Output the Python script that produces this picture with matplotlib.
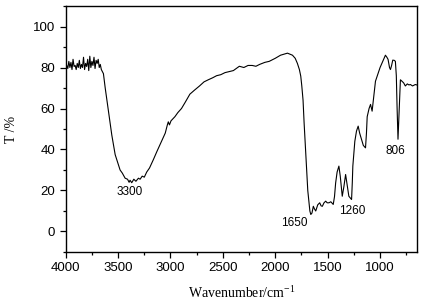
import numpy as np
import matplotlib
matplotlib.use('Agg')
import matplotlib.pyplot as plt
from matplotlib.ticker import MultipleLocator

# FTIR spectrum (wavenumber in cm-1, transmittance in %)
wavenumber = [
    4000, 3990, 3980, 3970, 3960, 3950, 3940, 3930, 3920, 3910,
    3900, 3890, 3880, 3870, 3860, 3850, 3840, 3830, 3820, 3810,
    3800, 3790, 3780, 3770, 3760, 3750, 3740, 3730, 3720, 3710,
    3700, 3690, 3680, 3670, 3660, 3650, 3640, 3623, 3591, 3560,
    3528, 3500, 3481, 3460, 3433, 3410, 3395, 3386, 3370, 3350,
    3330, 3306, 3290, 3270, 3250, 3227, 3200, 3164, 3130, 3085,
    3050, 3030, 3021, 3010, 2995, 2958, 2930, 2895, 2860, 2815,
    2770, 2723, 2680, 2640, 2597, 2560, 2520, 2480, 2438, 2400,
    2343, 2300, 2260, 2220, 2185, 2150, 2100, 2058, 2000, 1950,
    1899, 1884, 1860, 1836, 1810, 1789, 1770, 1757, 1747, 1735,
    1725, 1713, 1703, 1690, 1684, 1670, 1661, 1650, 1637, 1626,
    1614, 1595, 1576, 1563, 1551, 1535, 1519, 1505, 1488, 1470,
    1447, 1435, 1424, 1410, 1393, 1380, 1361, 1345, 1329, 1315,
    1298, 1272, 1265, 1260, 1250, 1241, 1225, 1209, 1195, 1177,
    1160, 1139, 1130, 1123, 1105, 1091, 1076, 1060, 1044, 1020,
    1000, 975, 949, 935, 924, 910, 901, 890, 879, 865,
    854, 845, 838, 829, 816, 806, 795, 775, 759, 740,
    725, 711, 690, 664, 650,
]
transmittance = [
    78, 81, 79.5, 83, 80, 82.5, 79, 84, 80.5, 81,
    79, 82, 80, 83.5, 79.5, 81.5, 80, 85, 79, 82,
    80.5, 84, 78.5, 85.5, 80, 83, 81, 85, 79.5, 83.5,
    82, 84, 80, 81.5, 79, 78, 77, 70, 58.5, 47,
    37.5, 33, 30, 28.5, 26, 25.5, 24, 25, 23.8, 25.5,
    24.5, 26, 25.5, 27, 26.5, 29, 31, 35, 39, 44,
    48, 52, 53.5, 52, 54, 56, 58, 60, 63, 67,
    69, 71, 73, 74, 75, 76, 76.5, 77.5, 78, 78.5,
    80.6, 80, 81, 81, 80.6, 81.5, 82.5, 83, 84.5, 86,
    86.8, 87, 86.5, 86, 84.5, 82, 79, 75.8, 71, 64,
    53, 42, 32, 20, 17, 10, 8.3, 9, 12.3, 11,
    10, 13, 14, 12.5, 12.3, 14, 14.8, 14, 14, 14.5,
    13.2, 17, 23.7, 29, 31.9, 27, 17.2, 22, 27.8, 23,
    17.2, 15.6, 24, 31.9, 38, 44, 49, 51.4, 48, 44.9,
    42, 40.8, 48, 56, 60, 62, 58.7, 66, 73.3, 77,
    80, 83, 86, 85, 84, 80, 79, 81, 83.6, 83.5,
    83, 76, 61, 45, 61, 74, 73.5, 72.5, 71, 72,
    71.5, 71.7, 71, 71.7, 71.5,
]

# peak labels: text, x, y
peak_labels = ["3300", "1650", "1260", "806"]
peak_label_x = [3389, 1822, 1270, 851]
peak_label_y = [19.5, 3.9, 9.9, 39.2]

# serif superscript in the axis label
plt.rcParams['mathtext.fontset'] = 'custom'
plt.rcParams['mathtext.rm'] = 'Liberation Serif'
plt.rcParams['mathtext.it'] = 'Liberation Serif:italic'

fig = plt.figure(figsize=(4.25, 3.05), dpi=100)
ax = fig.add_axes([0.1546, 0.1738, 0.826, 0.8065])

ax.plot(wavenumber, transmittance, color='black', linewidth=0.8)

for txt, lx, ly in zip(peak_labels, peak_label_x, peak_label_y):
    ax.text(lx, ly, txt, ha='center', va='center', fontsize=8.5,
            family='Liberation Sans')

ax.set_xlim(4000, 650)
ax.set_ylim(-10, 110)
ax.xaxis.set_major_locator(MultipleLocator(500))
ax.xaxis.set_minor_locator(MultipleLocator(250))
ax.yaxis.set_major_locator(MultipleLocator(20))
ax.yaxis.set_minor_locator(MultipleLocator(10))
ax.tick_params(which='both', direction='out', top=False, right=False,
               labelsize=9.5, width=0.9)
ax.tick_params(which='major', length=4)
ax.tick_params(which='minor', length=2.5)
for lbl in ax.get_xticklabels() + ax.get_yticklabels():
    lbl.set_family('Liberation Sans')
for sp in ax.spines.values():
    sp.set_linewidth(1.0)

ax.set_xlabel(r'Wavenumber/cm$\mathrm{^{-1}}$', family='Liberation Serif',
              fontsize=10, labelpad=8)
ax.set_ylabel('T /%', family='Liberation Serif', fontsize=10, labelpad=11)

fig.savefig('out.png', dpi=100)
